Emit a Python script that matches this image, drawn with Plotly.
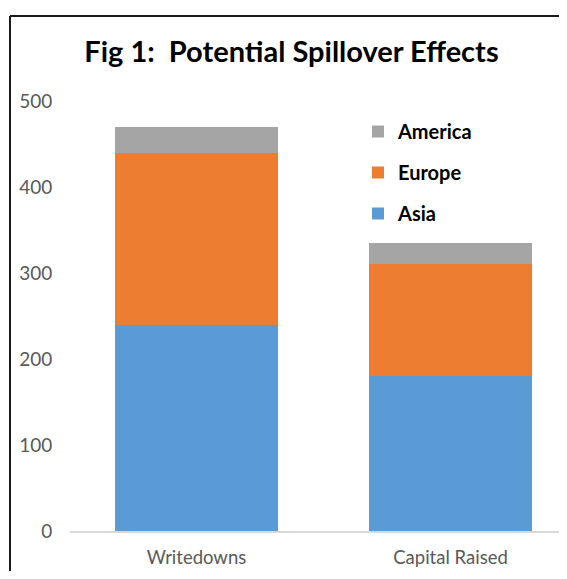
import plotly.graph_objects as go

categories = ["Writedowns", "Capital Raised"]
asia = [240, 180]
europe = [200, 130]
america = [30, 25]
y_ticks = [0, 100, 200, 300, 400, 500]

OFF = 8  # page body margin
W, H = 567 - OFF, 579 - 2 * OFF
ML, MR, MT = 70 - OFF, 0, 101 - OFF
MB = H - (531 - OFF)
pw = W - ML - MR
ph = H - MT - MB

def px_x(p):
    return (p - OFF - ML) / pw

def px_y(p):
    return (H - MB - (p - OFF)) / ph

fig = go.Figure()
fig.add_trace(go.Bar(name="<b>Asia</b>", x=categories, y=asia, marker=dict(color="#5B9BD5", line=dict(width=0)),
                     legendgroup="a", legendrank=3))
fig.add_trace(go.Bar(name="<b>Europe</b>", x=categories, y=europe, marker=dict(color="#ED7D31", line=dict(width=0)),
                     legendgroup="e", legendrank=2))
fig.add_trace(go.Bar(name="<b>America</b>", x=categories, y=america, marker=dict(color="#A5A5A5", line=dict(width=0)),
                     legendgroup="m", legendrank=1))

# category spacing 254 px, first center at 196.5 px (page coords)
x0 = (70 - 196.5) / 254
x1 = (OFF + W - 196.5) / 254

fig.update_layout(
    width=W, height=H,
    margin=dict(l=ML, r=MR, t=MT, b=MB),
    barmode="stack", bargap=0.36,
    paper_bgcolor="white", plot_bgcolor="white",
    font=dict(family="Lato", color="#595959", size=18),
    title=dict(text="<b>Fig 1:  Potential Spillover Effects</b>", x=(291.5 - OFF) / W, xanchor="center",
               y=1 - (52 - OFF) / H, yanchor="middle", font=dict(family="Lato", size=29, color="black")),
    xaxis=dict(range=[x0, x1], showline=True, linecolor="#D9D9D9", linewidth=1.5,
               ticks="outside", ticklen=9, tickcolor="rgba(0,0,0,0)",
               tickfont=dict(size=18.5, color="#595959"), showgrid=False, zeroline=False),
    yaxis=dict(range=[0, 500], tickvals=y_ticks, showgrid=False, zeroline=False, showline=False,
               ticks="outside", ticklen=13, tickcolor="rgba(0,0,0,0)",
               tickfont=dict(size=19, color="#595959")),
    legend=dict(x=px_x(358), y=px_y(112), xanchor="left", yanchor="top", traceorder="grouped",
                tracegroupgap=12, bgcolor="rgba(0,0,0,0)",
                font=dict(family="Lato", size=20, color="black"), itemclick=False),
    showlegend=True,
)

fig.add_shape(type="line", xref="paper", yref="paper", x0=px_x(10), x1=px_x(620), y0=px_y(16), y1=px_y(16),
              line=dict(color="#1a1a1a", width=2))
fig.add_shape(type="line", xref="paper", yref="paper", x0=px_x(10), x1=px_x(10), y0=px_y(16), y1=px_y(620),
              line=dict(color="#1a1a1a", width=2))

fig.write_html("out.html")
